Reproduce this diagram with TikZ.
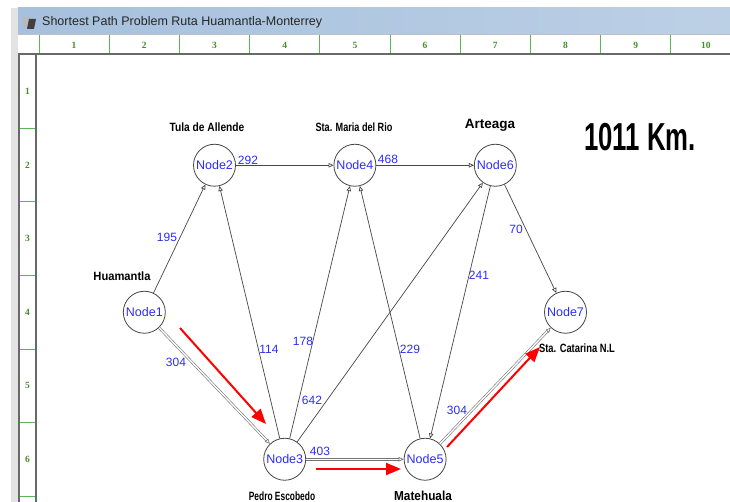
\documentclass[tikz,border=0pt]{standalone}
\usepackage{fontspec}
\setmainfont{Liberation Sans}
\newfontfamily\rulerfont{Liberation Serif}
\usetikzlibrary{arrows.meta}
\definecolor{edgegray}{RGB}{70,70,70}
\definecolor{wblue}{RGB}{45,45,250}
\definecolor{rgreen}{RGB}{90,180,90}
\definecolor{rlabel}{RGB}{70,140,40}
\definecolor{titleblue}{RGB}{166,192,221}
\definecolor{framegray}{RGB}{105,105,105}
\newcommand{\citytext}[2]{\scalebox{#1}[1]{#2}}
\begin{document}
\begin{tikzpicture}[x=1pt,y=-1pt,
  nd/.style={circle, draw=edgegray, line width=0.8pt, fill=white, minimum size=42pt, inner sep=0pt, text=wblue, font=\fontsize{12.5}{13}\selectfont},
  ed/.style={draw=edgegray, line width=0.7pt, -{Triangle[open,length=5pt,width=4.5pt]}},
  spedge/.style={ed, draw=gray!90!black, double=white, double distance=1.4pt, line width=0.6pt},
  wt/.style={text=wblue, font=\fontsize{12}{12}\selectfont, inner sep=0pt},
  city/.style={font=\bfseries\fontsize{12}{12}\selectfont, inner sep=0pt},
  redarrow/.style={draw=red, line width=2pt, -{Triangle[length=15pt,width=12pt]}},
  collbl/.style={text=rlabel, font=\rulerfont\bfseries\fontsize{9.5}{9.5}\selectfont, inner sep=0pt},
  ]
\useasboundingbox (0,0) rectangle (730,502);
\fill[white] (0,0) rectangle (730,502);
% window frame
\fill[gray!22] (11,8) rectangle (18,502);
\shade[left color=titleblue, right color=titleblue!75!white] (18,8) rectangle (730,34);
\fill[gray!55] (23,17) rectangle (31,27);
\fill[black!75] (29,19) -- (36,19) -- (34,29) -- (27,29) -- cycle;
\node[anchor=west, font=\fontsize{12.5}{12.5}\selectfont, text=black!85, inner sep=0pt] (title) at (42,22) {\scalebox{1.0}[1]{Shortest Path Problem Ruta Huamantla-Monterrey}};
% header ruler
\fill[white] (18,34) rectangle (730,53);
\draw[gray!50, line width=0.8pt] (18,34.5) -- (730,34.5);
\foreach \k in {0,...,9} {
  \draw[rgreen, line width=1pt] ({39+70.2*\k},35) -- ({39+70.2*\k},53);
}
\foreach \k in {1,...,10} {
  \node[collbl] (col\k) at ({39+70.2*(\k-0.5)},45) {\k};
}
\draw[framegray, line width=2pt] (18,54) -- (730,54);
% left ruler
\draw[framegray, line width=1.6pt] (18.8,54) -- (18.8,502);
\draw[framegray, line width=1.6pt] (36.2,54) -- (36.2,502);
\foreach \k in {1,...,6} {
  \draw[rgreen, line width=1pt] (19.6,{55+73.5*\k}) -- (35.4,{55+73.5*\k});
}
\foreach \k in {1,...,6} {
  \node[collbl] (row\k) at (27.5,{55+73.5*(\k-0.5)}) {\k};
}
% nodes
\node[nd] (n1) at (144.3,312.25) {Node1};
\node[nd] (n2) at (214.5,165.25) {Node2};
\node[nd] (n3) at (284.7,459.25) {Node3};
\node[nd] (n4) at (354.9,165.25) {Node4};
\node[nd] (n5) at (425.1,459.25) {Node5};
\node[nd] (n6) at (495.3,165.25) {Node6};
\node[nd] (n7) at (565.5,312.25) {Node7};
% edges
\draw[ed] (n1) -- (n2);
\draw[spedge] (n1) -- (n3);
\draw[ed] (n2) -- (n4);
\draw[ed] (n3) -- (n2);
\draw[ed] (n3) -- (n4);
\draw[ed] (n3) -- (n6);
\draw[spedge] (n3) -- (n5);
\draw[ed] (n4) -- (n6);
\draw[ed] (n5) -- (n4);
\draw[ed] (n6) -- (n5);
\draw[ed] (n6) -- (n7);
\draw[spedge] (n5) -- (n7);
% weights
\node[wt] (w292) at (248,160) {292};
\node[wt] (w468) at (388,159) {468};
\node[wt] (w195) at (167,237) {195};
\node[wt] (w304a) at (176,362) {304};
\node[wt] (w114) at (269,349) {114};
\node[wt] (w178) at (303,341) {178};
\node[wt] (w642) at (312,400) {642};
\node[wt] (w403) at (320,451) {403};
\node[wt] (w229) at (410,349) {229};
\node[wt] (w241) at (479,275) {241};
\node[wt] (w70) at (516,229) {70};
\node[wt] (w304b) at (457,410) {304};
% city labels
\node[city] (c2) at (207,127) {\citytext{0.85}{Tula de Allende}};
\node[city] (c4) at (354,127) {\citytext{0.76}{Sta. Maria del Rio}};
\node[city, font=\bfseries\fontsize{13.5}{13.5}\selectfont] (c6) at (490,125) {Arteaga};
\node[city] (c1) at (122,276) {\citytext{0.93}{Huamantla}};
\node[city] (c7) at (577,348) {\citytext{0.78}{Sta. Catarina N.L}};
\node[city] (c3) at (282,496) {\citytext{0.70}{Pedro Escobedo}};
\node[city, font=\bfseries\fontsize{13}{13}\selectfont] (c5) at (423,496) {\citytext{0.91}{Matehuala}};
% total
\node[font=\fontsize{39}{39}\selectfont, inner sep=0pt] (total) at (640,137) {\scalebox{0.66}[1]{\textbf{1011 Km.}}};
% red path arrows
\coordinate (ra1) at (180,328);
\coordinate (rb1) at (266,424);
\coordinate (ra2) at (316,469);
\coordinate (rb2) at (401,469);
\coordinate (ra3) at (447,447);
\coordinate (rb3) at (540,347);
\draw[redarrow] (ra1) -- (rb1);
\draw[redarrow] (ra2) -- (rb2);
\draw[redarrow] (ra3) -- (rb3);
\end{tikzpicture}
\end{document}
